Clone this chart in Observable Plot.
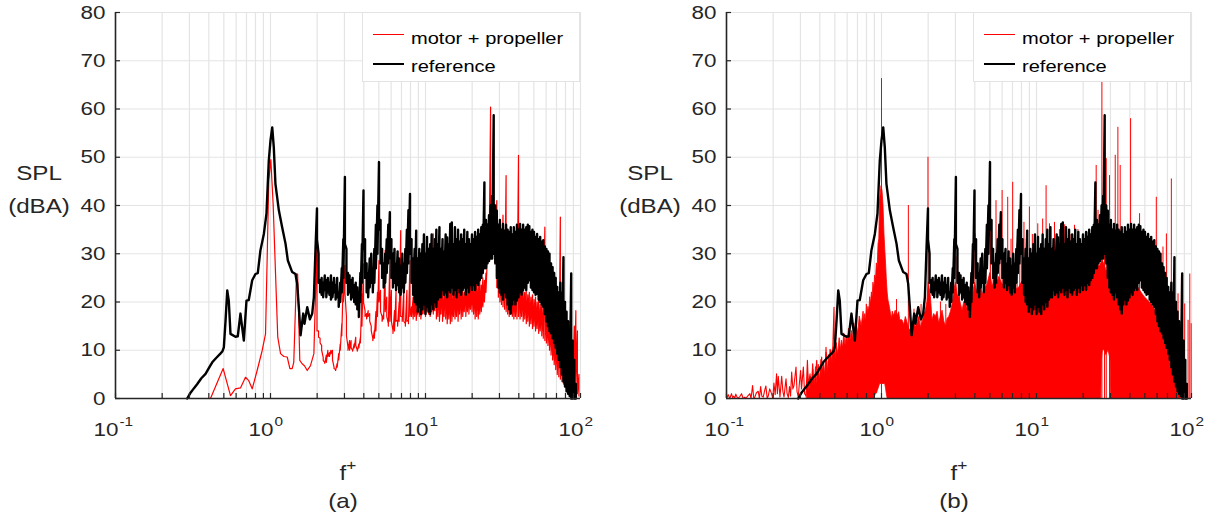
<!DOCTYPE html>
<html>
<head>
<meta charset="utf-8">
<script src="https://cdn.jsdelivr.net/npm/d3@7"></script>
<script src="https://cdn.jsdelivr.net/npm/@observablehq/plot@0.6"></script>
<style>
  body { margin: 0; background: #fff; }
  #fig { position: relative; width: 1217px; height: 520px; overflow: hidden;
         font-family: "Liberation Sans", Arial, sans-serif; color: #262626; }
  #fig svg { position: absolute; top: 0; }
  .lab { position: absolute; width: 100px; text-align: center; font-size: 21px; line-height: 21px;
         white-space: nowrap; transform: scaleX(1.15); transform-origin: center; }
  .lab sup { font-size: 15px; position: relative; top: -10px; vertical-align: baseline; }
  .legend { position: absolute; top: 12px; width: 218px; height: 70px; background: #fff;
            border: 1px solid #e3e3e3; box-sizing: border-box; }
  .key { position: absolute; left: 10px; width: 31px; height: 0; }
  .lt { position: absolute; left: 48px; font-size: 17px; line-height: 17px; color: #000;
        white-space: nowrap; transform: scaleX(1.18); transform-origin: left; }
</style>
</head>
<body>
<div id="fig"></div>
<script>
// ---------- axes ----------
const xMajor = [0.1, 1, 10, 100];
const xMinor = [0.2, 0.3, 0.4, 0.5, 0.6, 0.7, 0.8, 0.9,
                2, 3, 4, 5, 6, 7, 8, 9,
                20, 30, 40, 50, 60, 70, 80, 90];
const yTicks = [0, 10, 20, 30, 40, 50, 60, 70, 80];
const seriesNames = ["motor + propeller", "reference"];
const panelTags = ["(a)", "(b)"];

// ---------- shared frequency grid of the broadband part (f+ from 2 to 100) ----------
const bandF = [
  1.995, 2.042, 2.089, 2.138, 2.188, 2.239, 2.291, 2.344, 2.399, 2.455,
  2.512, 2.570, 2.630, 2.692, 2.754, 2.818, 2.884, 2.951, 3.020, 3.090,
  3.162, 3.236, 3.311, 3.388, 3.467, 3.548, 3.631, 3.715, 3.802, 3.890,
  3.981, 4.074, 4.169, 4.266, 4.365, 4.467, 4.571, 4.677, 4.786, 4.898,
  5.012, 5.129, 5.248, 5.370, 5.495, 5.623, 5.754, 5.888, 6.026, 6.166,
  6.310, 6.457, 6.607, 6.761, 6.918, 7.079, 7.244, 7.413, 7.586, 7.762,
  7.943, 8.128, 8.318, 8.511, 8.710, 8.913, 9.120, 9.333, 9.550, 9.772,
  10.00, 10.23, 10.47, 10.72, 10.96, 11.22, 11.48, 11.75, 12.02, 12.30,
  12.59, 12.88, 13.18, 13.49, 13.80, 14.13, 14.45, 14.79, 15.14, 15.49,
  15.85, 16.22, 16.60, 16.98, 17.38, 17.78, 18.20, 18.62, 19.05, 19.50,
  19.95, 20.42, 20.89, 21.38, 21.88, 22.39, 22.91, 23.44, 23.99, 24.55,
  25.12, 25.70, 26.30, 26.92, 27.54, 28.18, 28.84, 29.51, 30.20, 30.90,
  31.62, 32.36, 33.11, 33.88, 34.67, 35.48, 36.31, 37.15, 38.02, 38.90,
  39.81, 40.74, 41.69, 42.66, 43.65, 44.67, 45.71, 46.77, 47.86, 48.98,
  50.12, 51.29, 52.48, 53.70, 54.95, 56.23, 57.54, 58.88, 60.26, 61.66,
  63.10, 64.57, 66.07, 67.61, 69.18, 70.79, 72.44, 74.13, 75.86, 77.62,
  79.43, 81.28, 83.18, 85.11, 87.10, 89.13, 91.20, 93.33, 95.50, 97.72,
  100
];

// ---------- reference spectrum (same in both panels) ----------
const refHead = [
  [0.29, 0], [0.305, 1.2], [0.322, 2.2], [0.337, 3.0], [0.358, 4.2], [0.381, 5.1],
  [0.40, 6.3], [0.421, 7.5], [0.446, 8.4], [0.475, 9.3], [0.49, 9.8], [0.500, 10.6],
  [0.513, 16.2], [0.526, 22.4], [0.538, 20.3], [0.552, 13.4], [0.594, 12.8], [0.615, 12.9],
  [0.640, 17.6], [0.656, 14.8], [0.673, 12.0], [0.700, 20.3], [0.724, 20.4], [0.762, 24.5],
  [0.800, 25.8], [0.828, 26.0], [0.861, 30.7], [0.906, 34.1], [0.942, 38.3], [0.975, 49.3],
  [1.000, 53.5], [1.026, 56.2], [1.050, 52.1], [1.076, 44.5], [1.132, 39.0], [1.189, 35.5],
  [1.250, 32.1], [1.294, 28.6], [1.380, 26.2], [1.449, 25.8], [1.486, 23.8], [1.524, 18.9],
  [1.563, 13.1], [1.626, 17.6], [1.656, 15.5], [1.726, 18.9], [1.795, 16.4], [1.858, 17.6],
  [1.905, 21.0], [1.950, 30.7]
];
const refHi = [
  39.4, 30, 24.5, 25, 24, 25.5, 24.5, 25, 24, 25.5,
  24, 25, 23.5, 25, 22, 24, 27, 33, 45.9, 31,
  26, 25.5, 24.5, 25, 23.5, 24, 23, 22, 26, 32,
  43.1, 33, 28, 26, 29, 30, 26.5, 31, 36, 40,
  49, 37, 31, 28, 30, 33, 36, 38.6, 33, 30,
  31, 28, 30.5, 29, 27.5, 30, 28, 31, 35, 39,
  42.4, 33, 29, 31, 34.8, 29, 31, 30, 32, 34,
  30, 33.5, 31, 32, 34, 31, 33, 35, 32, 35.5,
  31, 33, 30.5, 34, 33.4, 32, 36.2, 36.5, 32, 35.5,
  33, 35, 32.5, 34, 33, 35, 32, 34.5, 33, 32,
  34, 33, 34.5, 33.5, 35, 34, 35.5, 36, 44.8, 37,
  36, 38, 40, 42, 58.7, 40, 38.9, 36, 37, 35,
  36.2, 34.8, 36, 35, 34.5, 35.5, 34, 35.5, 34.5, 36,
  35, 36.2, 35, 36, 35, 35.5, 36, 35.7, 34.5, 35,
  34.5, 33.5, 34.1, 33, 33.5, 32.5, 32.8, 31.5, 31, 30.5,
  30, 28, 27.2, 26, 25, 23.1, 22, 24, 22, 29.3,
  20, 18, 16, 14, 25.9, 12, 8, 3
];
const refLo = [
  33, 24, 22, 21.5, 21, 22.5, 21, 22, 21.5, 20.5,
  21, 22, 20.5, 21, 19, 20, 22, 25, 32, 24,
  21.5, 22, 20.5, 21, 20, 19.5, 18.5, 16.9, 20, 24,
  31, 25, 22, 21, 23, 24, 22, 24, 27, 30,
  35, 28, 25, 23, 24, 26, 28, 29, 25, 23,
  24, 22.5, 23.5, 22, 21.5, 23, 22, 24, 26, 28,
  30, 24, 21.5, 20, 19.5, 18, 19, 17.5, 18.5, 19.5,
  17.5, 19, 18, 17.5, 19.5, 18.5, 20, 19, 20.5, 21,
  21, 22.5, 21.5, 22, 21, 22.5, 22, 23, 21.5, 22.5,
  21, 23, 22, 21.5, 22.5, 23, 21.5, 23, 22, 23.5,
  22.5, 23.5, 22.5, 24, 23.5, 24.5, 25, 26, 27, 27,
  28, 28.5, 29, 29, 30, 28, 25, 23, 22, 21.5,
  20.5, 22, 21, 19.5, 18.5, 17.6, 19.5, 20.5, 19.5, 20.3,
  21, 22, 21.5, 22.5, 23, 22.5, 24, 24.5, 23, 22.5,
  22, 21.5, 21.7, 20.5, 20, 19.5, 19, 17.5, 16, 15,
  14, 13.5, 12.5, 11.5, 10.5, 9.3, 8, 6.5, 5, 3.5,
  2.5, 1.5, 1, 0.5, 0, 0, 0, 0
];

// ---------- motor + propeller, panel (a) ----------
const propAHead = [
  [0.41, 0], [0.495, 6.2], [0.552, 0.6], [0.594, 2.0], [0.640, 2.2], [0.690, 4.4],
  [0.724, 3.7], [0.762, 2.0], [0.820, 5.8], [0.883, 9.9], [0.929, 13.4], [0.953, 30],
  [0.975, 45.2], [1.005, 49.5], [1.040, 40.3], [1.076, 26.5], [1.114, 12.7], [1.161, 9.3],
  [1.219, 8.7], [1.282, 8.6], [1.334, 6.2], [1.380, 6.2], [1.413, 7.5], [1.472, 25.8],
  [1.496, 25.8], [1.545, 7.9], [1.600, 7.2], [1.656, 6.8], [1.726, 5.8], [1.811, 6.8],
  [1.905, 9.3]
];
const propAHi = [
  32.7, 14, 12.5, 11, 8.5, 7.5, 9, 10, 9.5, 10,
  10, 6.5, 6, 7.3, 9.3, 11.3, 15.5, 25.8, 27.6, 17,
  10.7, 12, 12, 10, 11.3, 12.7, 10, 11.3, 12.7, 21.7,
  27.9, 18.2, 17.6, 18.2, 17.6, 15, 12.5, 14.1, 18, 22,
  28.6, 22.4, 17, 17.6, 30.7, 21, 15.5, 28.6, 22.4, 14.1,
  18.2, 22.4, 16.2, 20, 34.8, 17, 22.4, 15.5, 22.4, 16.2,
  28.6, 19, 21, 22.4, 20, 19, 21, 22.4, 20, 21.5,
  23, 23.7, 22, 25.1, 21, 34.1, 22, 23, 21.5, 24,
  22, 23.5, 21.5, 24.5, 22, 23, 22.5, 25.1, 22, 23.5,
  21.5, 23, 25, 22.5, 24.5, 22, 23.5, 24, 22.5, 24,
  23, 24.5, 23, 24, 23.5, 24.5, 23.5, 25, 24.5, 26,
  30, 35, 60.4, 40, 32, 35, 41, 30, 28, 27,
  38, 28, 46.2, 24, 23, 22.5, 23, 22, 23, 22.5,
  50.4, 24, 22.5, 23, 22, 22.5, 21.5, 22, 21, 21.5,
  20.5, 21, 20, 20.5, 19.5, 20, 19, 35.5, 18, 17,
  16, 15, 14, 13, 12.5, 12, 12, 37.6, 11, 10,
  9, 8, 7, 6, 8, 12, 15, 18.2, 14, 5
];
const propALo = [
  14, 12.7, 11.5, 10, 7.9, 7.3, 7.5, 8.7, 8.7, 9.3,
  8, 6.2, 5.8, 6.5, 8, 10, 13, 20, 22, 13,
  10, 10, 10.5, 9.8, 10.5, 11, 9.8, 10.5, 11.5, 15,
  20, 17, 16.5, 17, 16, 14, 12, 12.5, 14, 17,
  20, 18, 16, 16.5, 18, 17, 15, 16, 16, 13.5,
  14, 16, 15, 16, 17, 16, 16, 15, 16, 15.5,
  17, 17, 16.5, 17, 16.2, 17.5, 17, 16.5, 17.5, 17.6,
  17, 18, 17.5, 17, 18, 17.5, 18.2, 16.5, 17, 16,
  17.5, 16, 17, 16.5, 15.5, 16.5, 15.5, 16, 17, 16.5,
  17, 16, 17.5, 16.5, 17, 18, 17, 18, 17.5, 18.5,
  18, 17.5, 16.5, 17, 16.5, 17.5, 18, 19, 20, 22,
  28, 29, 30, 30, 30, 28, 23, 21, 20, 19.5,
  19, 18.5, 18, 17.5, 17, 17.5, 17, 16.5, 17, 16.5,
  17, 16.5, 17, 16, 16.5, 15.5, 16, 15, 15.5, 14.5,
  15, 14, 14.5, 13.5, 14, 13, 12.5, 12, 11.5, 11,
  10, 9, 8, 7, 6, 5, 4.5, 4, 3.5, 3,
  2.5, 2, 1.5, 1, 1, 1.5, 2, 3, 1, 0.5
];

// ---------- motor + propeller, panel (b) ----------
// sparse low-frequency bins
const propBLow = [
  [0.100, 0], [0.1026, 0.8], [0.105, 0], [0.1077, 1.0], [0.1095, 0.2], [0.1114, 0.5], [0.113, 0],
  [0.1148, 0.9], [0.118, 0], [0.1219, 0.4], [0.125, 1.0], [0.128, 0], [0.1314, 0.3], [0.134, 0],
  [0.136, 0.4], [0.1416, 1.0], [0.144, 0], [0.1473, 2.7], [0.150, 0], [0.1524, 0.3], [0.156, 1.2],
  [0.1602, 1.5], [0.163, 0], [0.166, 2.5], [0.169, 0.5], [0.1726, 0.3], [0.176, 1.6], [0.1795, 2.6],
  [0.183, 0], [0.1859, 0.5], [0.190, 2.0], [0.1953, 1.0], [0.199, 0], [0.2023, 3.2], [0.206, 0.8],
  [0.2104, 5.1], [0.213, 1.0], [0.2158, 4.6], [0.2213, 0.3], [0.2270, 4.6], [0.231, 1.5],
  [0.2350, 0.3], [0.2421, 4.1], [0.246, 1.0], [0.2506, 0.2], [0.255, 2.5], [0.259, 0.5],
  [0.2633, 5.5], [0.268, 2.0], [0.2725, 2.7], [0.2808, 6.5], [0.285, 1.5], [0.2904, 0.3],
  [0.295, 3.0], [0.3006, 5.8], [0.305, 2.0], [0.3131, 6.5], [0.319, 1.0], [0.3259, 0.5],
  [0.3326, 7.9], [0.338, 2.5], [0.3459, 5.1], [0.352, 1.5], [0.3598, 7.2], [0.3671, 0.3],
  [0.374, 4.0], [0.3819, 7.9], [0.389, 3.0], [0.3972, 0.5], [0.404, 5.0], [0.4112, 8.6],
  [0.417, 3.0], [0.4217, 6.5], [0.430, 2.0], [0.4386, 10.6], [0.446, 4.0], [0.4541, 0.3],
  [0.460, 6.0], [0.4656, 10.2], [0.473, 5.0], [0.4842, 9.7], [0.4939, 18.9], [0.497, 3.0], [0.501, 0]
];
// dense bins: [f+, lower edge, upper edge] of the filled spectrum
const propBEnv = [
  [0.331, 0, 2], [0.336, 0, 5], [0.342, 0, 1.5], [0.350, 0, 4.5], [0.356, 0, 2], [0.363, 0, 6],
  [0.370, 0, 2.5], [0.378, 0, 6.5], [0.386, 0, 3], [0.394, 0, 7], [0.402, 0, 3.5], [0.410, 0, 8],
  [0.418, 0, 4], [0.426, 0, 7.5], [0.434, 0, 4.5], [0.442, 0, 9.5], [0.450, 0, 5], [0.458, 0, 9],
  [0.466, 0, 6], [0.474, 0, 10], [0.482, 0, 7], [0.490, 0, 10.5],
  [0.501, 0, 10.6], [0.507, 0, 8], [0.514, 0, 11.5], [0.525, 0, 9], [0.537, 0, 12.5], [0.546, 0, 10],
  [0.555, 0, 12], [0.565, 0, 10.5], [0.575, 0, 13.5], [0.586, 0, 11], [0.597, 0, 13], [0.607, 0, 11.5],
  [0.617, 0, 14.5], [0.630, 0, 12], [0.643, 0, 14], [0.655, 0, 12.5], [0.668, 0, 15.5], [0.680, 0, 13],
  [0.693, 0, 15], [0.708, 0, 13.5], [0.724, 0, 17], [0.745, 0, 15], [0.766, 0, 18], [0.775, 0, 16],
  [0.785, 0, 17.5], [0.795, 0, 16], [0.804, 0, 19.5], [0.814, 0, 17.5], [0.824, 0, 19], [0.835, 0, 18],
  [0.845, 0, 21], [0.856, 0, 19.5], [0.867, 0, 22], [0.877, 0, 21], [0.887, 0, 24], [0.898, 0, 22.5],
  [0.910, 0.5, 25.5], [0.921, 1, 24.5], [0.933, 1, 28], [0.945, 1.5, 27], [0.957, 2, 32], [0.968, 2.5, 33],
  [0.979, 3, 41], [1.000, 3, 44], [1.015, 3, 43], [1.030, 3, 40], [1.045, 3, 34], [1.057, 3, 31],
  [1.070, 2, 28], [1.081, 1, 25], [1.095, 0, 22], [1.109, 0, 20.3], [1.124, 0, 19.5], [1.138, 0, 18.5],
  [1.152, 0, 17.5], [1.167, 0, 16.5], [1.182, 0, 18], [1.197, 0, 17.0],
  [1.236, 0, 18.2], [1.256, 0, 16.8], [1.300, 0, 17.9], [1.321, 0, 16.2], [1.365, 0, 16.2],
  [1.400, 0, 15.2], [1.436, 0, 16.9], [1.507, 0, 14.5], [1.585, 0, 13.4], [1.626, 0, 15.5],
  [1.667, 0, 14.8], [1.706, 0, 15.5], [1.750, 0, 16.9], [1.795, 0, 14.6], [1.841, 0, 15.8],
  [1.888, 0, 17.2], [1.932, 0, 18.2], [1.977, 0, 20.0], [2.018, 0, 24.0], [2.084, 0, 21.0],
  [2.133, 0, 16.2], [2.188, 0, 17.5], [2.244, 0, 16.9], [2.301, 0, 18.0], [2.355, 0, 15.5],
  [2.415, 0, 17.0], [2.477, 0, 18.2], [2.541, 0, 16.0], [2.606, 0, 14.8], [2.667, 0, 16.5],
  [2.735, 0, 16.9], [2.805, 0, 18.0], [2.877, 0, 19.6], [2.951, 0, 22.4], [3.020, 0, 24.0],
  [3.097, 0, 21.5], [3.177, 0, 21.0], [3.258, 0, 19.5], [3.334, 0, 18.2], [3.420, 0, 20.0],
  [3.508, 0, 19.6], [3.597, 0, 18.5], [3.681, 0, 17.9], [3.776, 0, 19.5], [3.873, 0, 21.0],
  [4.009, 0, 24.0], [4.169, 0, 21.7], [4.276, 0, 22.5], [4.385, 0, 23.1], [4.498, 0, 21.5],
  [4.603, 0, 22.4], [4.721, 0, 23.0], [4.842, 0, 23.8], [5.035, 0, 26.0], [5.212, 0, 23.1],
  [5.370, 0, 24.5], [5.559, 0, 23.5], [5.754, 0, 25.2], [5.957, 0, 24.0], [6.166, 0, 23.2],
  [6.353, 0, 23.8], [6.577, 0, 25.0], [6.792, 0, 23.5], [7.015, 0, 24.5], [7.278, 0, 23.5],
  [7.516, 0, 22.5], [7.762, 0, 23.1], [8.035, 0, 24.0], [8.318, 0, 24.8], [8.570, 0, 25.2],
  [8.872, 0, 24.0], [9.162, 0, 23.8], [9.462, 0, 24.5], [9.772, 0, 23.5], [10.12, 0, 24.5],
  [10.45, 0, 25.9], [10.84, 0, 24.0], [11.22, 0, 23.0], [11.83, 0, 22.5], [12.45, 0, 23.0],
  [13.06, 0, 22.5], [13.74, 0, 23.5], [14.42, 0, 23.0], [15.14, 0, 24.0], [15.92, 0, 23.5],
  [16.71, 0, 24.8], [17.58, 0, 24.5], [18.45, 0, 25.0], [19.41, 0, 23.8], [20.42, 0, 24.5],
  [21.43, 0, 25.0], [22.49, 0, 25.5], [23.66, 0, 26.6], [24.89, 0, 27.3], [25.70, 0, 27.5],
  [26.18, 0, 28.0], [26.42, 8, 28.3], [26.79, 10, 28.6], [27.54, 10, 27.5], [28.18, 9, 26.6],
  [29.17, 10, 25.5], [30.06, 8, 24.0], [30.34, 0, 23.8], [31.92, 0, 23.0], [33.50, 0, 22.4],
  [35.24, 0, 22.8], [36.98, 0, 23.1], [38.90, 0, 22.4], [40.83, 0, 22.4], [42.95, 0, 22.8],
  [45.19, 0, 23.1], [47.42, 0, 22.0], [49.89, 0, 21.0], [52.48, 0, 20.3], [55.08, 0, 19.6],
  [57.94, 0, 18.5], [60.81, 0, 16.9], [63.97, 0, 15.0], [67.14, 0, 12.8], [70.47, 0, 10.8],
  [74.13, 0, 8.7], [77.98, 0, 6.0], [81.85, 0, 3.2], [86.10, 0, 0]
];
// tonal peaks rising above the filled spectrum
const propBPeaks = [
  [1.000, 66.3], [1.25, 20.5], [1.49, 40.0], [1.62, 18.5], [1.80, 19.5], [1.995, 50.0],
  [2.40, 20.0], [2.60, 19.5], [3.02, 29.3], [3.18, 23.5], [3.70, 22.0], [4.01, 34.1],
  [4.40, 26.0], [4.65, 28.0], [5.04, 35.5], [5.25, 30.0], [5.48, 41.0], [5.80, 32.0],
  [6.00, 43.1], [6.25, 30.0], [6.52, 41.7], [6.85, 33.0], [7.02, 44.8], [7.50, 32.0],
  [7.80, 35.5], [8.30, 36.5], [8.60, 33.0], [9.00, 39.7], [9.40, 34.0], [9.75, 32.0],
  [10.19, 36.2], [10.96, 37.2], [11.53, 44.1], [12.13, 36.2], [13.06, 36.5], [14.06, 35.0],
  [15.2, 36.0], [16.7, 34.0], [17.58, 35.9], [18.5, 35.0], [20.0, 34.0], [21.5, 34.5],
  [24.27, 48.3], [24.95, 39.0], [26.42, 65.6], [27.48, 50.7], [28.18, 49.7], [29.58, 46.2],
  [32.21, 50.4], [33.50, 56.2], [34.67, 48.3], [36.98, 34.8], [40.46, 58.0], [46.24, 38.3],
  [59.29, 41.7], [65.46, 31.4], [68.87, 34.1], [74.13, 45.5], [81.85, 21.7], [86.10, 25.2],
  [90.36, 19.6], [95.06, 16.2], [97.50, 25.8], [99.5, 15.5]
];

// ---------- build tables ----------
// head points followed by the broadband bins, each bin drawn as a max/min stroke
function spectrum(head, hi, lo) {
  const out = head.map(([f, db]) => ({f, db}));
  hi.forEach((h, i) => out.push({f: bandF[i], db: h}, {f: bandF[i], db: lo[i]}));
  return out;
}
const refRows = spectrum(refHead, refHi, refLo);
const propARows = spectrum(propAHead, propAHi, propALo);
const propBLowRows = propBLow.map(([f, db]) => ({f, db}));
const propBEnvRows = propBEnv.map(([f, lo, hi]) => ({f, lo, hi}));
const propBPeakRows = propBPeaks.map(([f, db]) => ({f, db}));

// ---------- styling ----------
const RED = "#ff0000", BLACK = "#000000";
const AXIS = "#262626", GRID = "#e4e4e4";
const FONT = "'Liberation Sans', Arial, sans-serif";
const W = 600, H = 520, ML = 115, MR = 20, MT = 12, MB = 122;
const FW = W - ML - MR, FH = H - MT - MB, TICK = 5, STRETCH = 1.18;

function stretchText(node, k) {
  let tx = 0, ty = 0;
  const xa = node.getAttribute("x"), ya = node.getAttribute("y");
  if (xa && !/em$/.test(xa)) { tx = +xa; node.removeAttribute("x"); }
  if (ya && !/em$/.test(ya)) { ty = +ya; node.removeAttribute("y"); }
  const tr = node.getAttribute("transform") || "";
  node.setAttribute("transform", `${tr} translate(${tx},${ty}) scale(${k},1)`);
}

function panel(dataMarks) {
  const allX = xMajor.concat(xMinor);
  const svg = Plot.plot({
    width: W, height: H, marginLeft: ML, marginRight: MR, marginTop: MT, marginBottom: MB,
    x: {type: "log", domain: [0.1, 100], axis: null, label: null},
    y: {domain: [0, 80], axis: null, label: null},
    style: {fontFamily: FONT, fontSize: "19px", color: AXIS, background: "transparent", overflow: "visible"},
    marks: [
      Plot.ruleX(allX, {stroke: GRID, strokeWidth: 1.2}),
      Plot.ruleY(yTicks.filter(v => v > 0), {stroke: GRID, strokeWidth: 1.2}),
      ...dataMarks,
      Plot.ruleX(allX, {stroke: AXIS, strokeWidth: 1.2, insetTop: FH - TICK}),
      Plot.ruleY(yTicks, {stroke: AXIS, strokeWidth: 1.2, insetRight: FW - TICK}),
      Plot.ruleX([0.1], {stroke: AXIS, strokeWidth: 1.6}),
      Plot.ruleY([0], {stroke: AXIS, strokeWidth: 1.6}),
      Plot.axisY({ticks: yTicks, tickSize: 0, tickPadding: 10, fontSize: 19, label: null,
                  tickFormat: d => `${d}`}),
      Plot.text(xMajor, {x: d => d, frameAnchor: "bottom", text: () => "10", textAnchor: "end",
                         dx: 3, dy: 37, fontSize: 19, fill: AXIS}),
      Plot.text(xMajor, {x: d => d, frameAnchor: "bottom", text: d => `${Math.round(Math.log10(d))}`,
                         textAnchor: "start", dx: 4, dy: 27, fontSize: 13, fill: AXIS})
    ]
  });
  svg.querySelectorAll("text").forEach(t => stretchText(t, STRETCH));
  return svg;
}

const panels = [
  panel([
    Plot.line(propARows, {x: "f", y: "db", stroke: RED, strokeWidth: 1.2}),
    Plot.line(refRows, {x: "f", y: "db", stroke: BLACK, strokeWidth: 2.4})
  ]),
  panel([
    Plot.areaY(propBEnvRows, {x: "f", y1: "lo", y2: "hi", fill: RED, stroke: RED, strokeWidth: 0.8}),
    Plot.ruleX(propBPeakRows, {x: "f", y1: 0, y2: "db", stroke: RED, strokeWidth: 1}),
    Plot.line(propBLowRows, {x: "f", y: "db", stroke: RED, strokeWidth: 1.1}),
    Plot.line(refRows, {x: "f", y: "db", stroke: BLACK, strokeWidth: 2.4})
  ])
];

const fig = document.getElementById("fig");
const offsets = [0, 611];
panels.forEach((svg, i) => {
  const ox = offsets[i];
  svg.style.left = ox + "px";
  fig.appendChild(svg);

  const add = (html, cls, left, top) => {
    const d = document.createElement("div");
    d.className = cls; d.innerHTML = html;
    d.style.left = left + "px"; d.style.top = top + "px";
    fig.appendChild(d);
    return d;
  };
  add("SPL", "lab", ox + 38.5 - 50, 162);
  add("(dBA)", "lab", ox + 39 - 50, 195);
  add("f<sup>+</sup>", "lab", ox + 347.5 - 50, 462);
  add(panelTags[i], "lab", ox + 343 - 50, 490);

  const lg = add("", "legend", ox + 362, 12);
  const k1 = document.createElement("div");
  k1.className = "key"; k1.style.top = "21px"; k1.style.borderTop = `1.3px solid ${RED}`;
  const k2 = document.createElement("div");
  k2.className = "key"; k2.style.top = "50px"; k2.style.borderTop = `2px solid ${BLACK}`;
  const t1 = document.createElement("div");
  t1.className = "lt"; t1.style.top = "17px"; t1.textContent = seriesNames[0];
  const t2 = document.createElement("div");
  t2.className = "lt"; t2.style.top = "45px"; t2.textContent = seriesNames[1];
  lg.append(k1, k2, t1, t2);
});
</script>
</body>
</html>
